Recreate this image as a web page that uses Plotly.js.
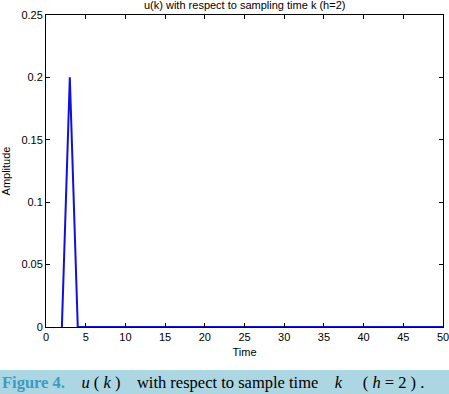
<!DOCTYPE html>
<html>
<head>
<meta charset="utf-8">
<script src="https://cdn.plot.ly/plotly-3.0.1.min.js"></script>
<style>html,body{margin:0;padding:0;background:#fff;}#chart{width:449px;height:394px;}</style>
</head>
<body>
<div id="chart"></div>
<script>
const timeK = [2,3,4,5,6,7,8,9,10,11,12,13,14,15,16,17,18,19,20,21,22,23,24,25,26,27,28,29,30,31,32,33,34,35,36,37,38,39,40,41,42,43,44,45,46,47,48,49,50];
const uValues = [0,0.2,0,0,0,0,0,0,0,0,0,0,0,0,0,0,0,0,0,0,0,0,0,0,0,0,0,0,0,0,0,0,0,0,0,0,0,0,0,0,0,0,0,0,0,0,0,0,0];
const xTicks = [0,5,10,15,20,25,30,35,40,45,50];
const yTicks = [0,0.05,0.1,0.15,0.2,0.25];
const yTickText = ['0','0.05','0.1','0.15','0.2','0.25'];

const trace = {x: timeK, y: uValues, type: 'scatter', mode: 'lines',
  line: {color: '#1010e0', width: 2}, hoverinfo: 'none'};

const axisCommon = {showgrid: false, zeroline: false, showline: true, mirror: 'ticks',
  linecolor: '#000', linewidth: 1, ticks: 'inside', ticklen: 4, tickcolor: '#000',
  ticklabeloverflow: 'allow',
  tickfont: {family: 'Liberation Sans, Arial, sans-serif', size: 11, color: '#000'}};

const layout = {
  width: 449, height: 394,
  margin: {l: 46, r: 6, t: 15, b: 67},
  paper_bgcolor: '#fff', plot_bgcolor: '#fff',
  showlegend: false,
  title: {text: 'u(k) with respect to sampling time k (h=2)', x: 0.545, xanchor: 'center',
    y: 1, yanchor: 'top', yref: 'container', pad: {t: 1},
    font: {family: 'Liberation Sans, Arial, sans-serif', size: 11, color: '#000'}},
  xaxis: Object.assign({}, axisCommon, {range: [0, 50], tickvals: xTicks, ticktext: xTicks.map(String),
    title: {text: 'Time', standoff: 6, font: {family: 'Liberation Sans, Arial, sans-serif', size: 11, color: '#000'}}}),
  yaxis: Object.assign({}, axisCommon, {range: [0, 0.25], tickvals: yTicks, ticktext: yTickText,
    title: {text: 'Amplitude', standoff: 8, font: {family: 'Liberation Sans, Arial, sans-serif', size: 11, color: '#000'}}}),
  shapes: [{type: 'rect', xref: 'paper', yref: 'paper', x0: -0.2, x1: 1.1,
    y0: -67/312, y1: -(370-327)/312, fillcolor: '#acd6e2', line: {width: 0}, layer: 'below'}],
  annotations: [{xref: 'paper', yref: 'paper', x: -46/397, y: -(382-327)/312, xanchor: 'left', yanchor: 'middle',
    showarrow: false, align: 'left',
    font: {family: 'Liberation Serif, Times New Roman, serif', size: 16.5, color: '#000'},
    text: '<b><span style="color:#3d9cc0">Figure 4.</span></b>    <i>u</i> ( <i>k</i> )    with respect to sample time    <i>k</i>     ( <i>h</i> = 2 ) .'}]
};

Plotly.newPlot('chart', [trace], layout, {staticPlot: true, displayModeBar: false});
</script>
</body>
</html>
